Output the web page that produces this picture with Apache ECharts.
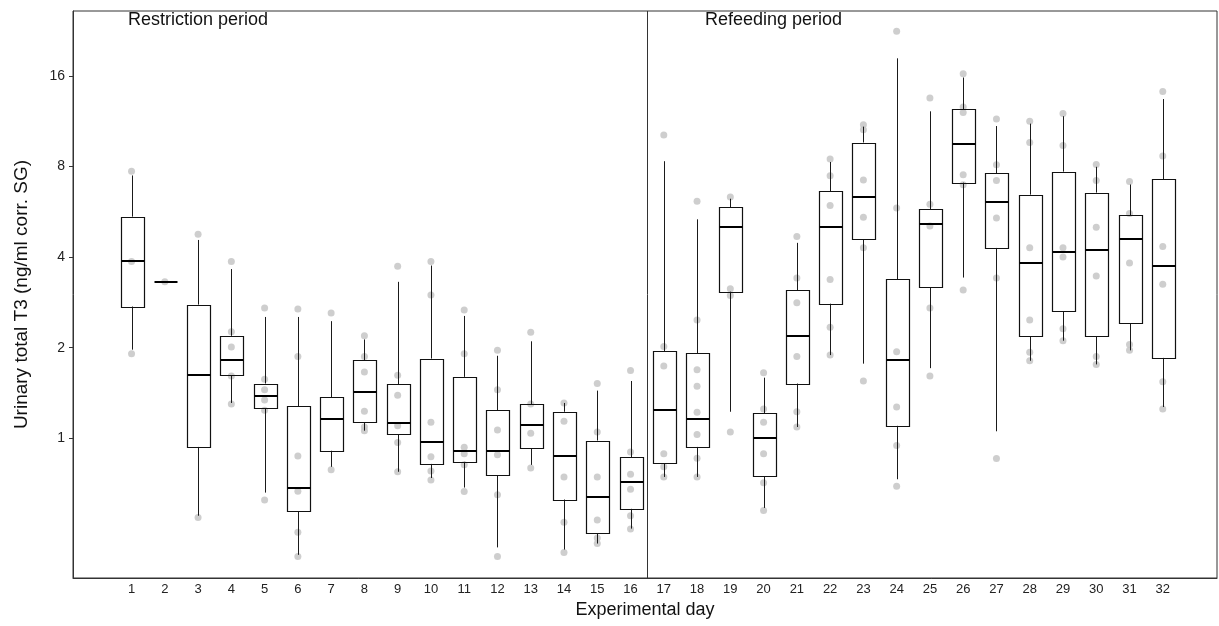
<!DOCTYPE html>
<html>
<head>
<meta charset="utf-8">
<script src="https://cdn.jsdelivr.net/npm/echarts@6/dist/echarts.min.js"></script>
<style>
  html, body { margin: 0; padding: 0; background: #fff; }
  #chart { width: 1219px; height: 626px; }
</style>
</head>
<body>
<div id="chart"></div>
<script>
// ---- Data (ng/ml corr. SG) ----
const days = [1,2,3,4,5,6,7,8,9,10,11,12,13,14,15,16,17,18,19,20,21,22,23,24,25,26,27,28,29,30,31,32];
const whiskerLow  = [1.97,3.31,0.553,1.31,0.66,0.41,0.804,1.06,0.774,0.738,0.686,0.434,0.816,0.427,0.447,0.501,0.744,0.744,1.225,0.587,1.09,1.89,1.77,0.731,1.71,3.42,1.055,1.81,2.11,1.76,1.96,1.27];
const q1          = [2.74,3.31,0.936,1.62,1.26,0.573,0.909,1.13,1.03,0.822,0.835,0.755,0.925,0.626,0.484,0.583,0.827,0.936,3.07,0.749,1.52,2.80,4.59,1.10,3.18,7.07,4.29,2.18,2.64,2.18,2.41,1.85];
const median      = [3.89,3.31,1.62,1.82,1.38,0.686,1.16,1.43,1.12,0.969,0.909,0.904,1.11,0.876,0.637,0.718,1.24,1.16,5.03,1.00,2.19,5.03,6.31,1.82,5.17,9.53,6.08,3.83,4.17,4.21,4.59,3.74];
const q3          = [5.45,3.31,2.78,2.19,1.52,1.28,1.37,1.82,1.51,1.84,1.60,1.24,1.30,1.225,0.983,0.864,1.95,1.92,5.85,1.21,3.10,6.62,9.61,3.37,5.77,12.4,7.60,6.45,7.69,6.55,5.50,7.26];
const whiskerHigh = [7.47,3.31,4.56,3.65,2.53,2.53,2.45,2.13,3.31,3.75,2.55,1.88,2.10,1.31,1.44,1.55,8.33,5.34,6.25,1.59,4.46,8.28,10.85,18.3,12.2,15.8,10.9,11.1,11.75,7.98,6.97,13.4];
const observations = [
  [7.71,3.87,1.91],
  [3.31],
  [4.76,0.546],
  [3.87,2.26,2.01,1.61,1.30],
  [2.71,1.57,1.45,1.34,1.24,0.624],
  [2.69,1.87,0.874,0.667,0.487,0.405],
  [2.61,0.786],
  [2.19,1.87,1.66,1.23,1.09,1.06],
  [3.73,1.62,1.39,1.10,0.969,0.774],
  [3.87,2.99,1.13,0.869,0.779,0.727],
  [2.67,1.91,0.933,0.889,0.816,0.665],
  [1.96,1.45,1.065,0.882,0.649,0.405],
  [2.25,1.30,1.04,0.797],
  [1.31,1.14,0.744,0.526,0.417],
  [1.52,1.05,0.744,0.535,0.466,0.447],
  [1.68,0.901,0.759,0.677,0.553,0.500],
  [10.18,2.02,1.74,0.889,0.804,0.744],
  [6.13,2.47,1.69,1.49,1.22,1.03,0.859,0.744],
  [6.34,3.14,2.98,1.05],
  [1.65,1.25,1.13,0.889,0.711,0.575],
  [4.68,3.41,2.82,1.87,1.225,1.09],
  [8.47,7.45,5.94,3.37,2.34,1.89],
  [11.0,10.6,7.21,5.42,4.30,1.55],
  [22.5,5.82,1.94,1.27,0.947,0.693],
  [13.5,5.99,5.07,2.71,1.61],
  [16.26,12.6,12.1,7.51,6.96,3.11],
  [11.5,8.10,7.18,5.39,3.41,0.856],
  [11.3,9.61,4.30,2.47,1.93,1.81],
  [12.0,9.40,4.30,4.00,2.31,2.11],
  [8.12,7.18,5.03,3.46,1.87,1.76],
  [7.13,5.58,3.82,2.05,1.96],
  [14.2,8.67,4.34,3.25,1.54,1.25]
];
const yTickValues = [1, 2, 4, 8, 16];
const periodSplit = 16.5;
const periodLabels = ['Restriction period', 'Refeeding period'];
const yAxisTitle = 'Urinary total T3 (ng/ml corr. SG)';
const xAxisTitle = 'Experimental day';

// ---- Build (log2 scale) ----
const lg = Math.log2;
const boxData = days.map((d, i) => [d, lg(whiskerLow[i]), lg(q1[i]), lg(median[i]), lg(q3[i]), lg(whiskerHigh[i])]);
const pointData = [];
days.forEach((d, i) => observations[i].forEach(v => pointData.push([d, lg(v)])));

const BOX_W = 0.72;
const crisp = v => Math.round(v) + 0.5;

function renderBox(params, api) {
  const x = api.value(0);
  const cx = crisp(api.coord([x, api.value(3)])[0]);
  const yLow = api.coord([x, api.value(1)])[1];
  const yQ1 = api.coord([x, api.value(2)])[1];
  const yMed = api.coord([x, api.value(3)])[1];
  const yQ3 = api.coord([x, api.value(4)])[1];
  const yHigh = api.coord([x, api.value(5)])[1];
  const half = api.size([BOX_W, 0])[0] / 2;
  const x0 = crisp(cx - half), x1 = crisp(cx + half);
  const lineStyle = { stroke: '#1a1a1a', lineWidth: 1, fill: null };
  const children = [];
  if (yQ1 - yQ3 > 0.5) {
    children.push({ type: 'line', shape: { x1: cx, y1: yHigh, x2: cx, y2: yQ3 }, style: lineStyle });
    children.push({ type: 'line', shape: { x1: cx, y1: yQ1, x2: cx, y2: yLow }, style: lineStyle });
    children.push({ type: 'rect', shape: { x: x0, y: crisp(yQ3), width: x1 - x0, height: crisp(yQ1) - crisp(yQ3) },
      style: { stroke: '#111', lineWidth: 1.2, fill: 'rgba(0,0,0,0)' } });
  }
  children.push({ type: 'line', shape: { x1: x0, y1: Math.round(yMed), x2: x1, y2: Math.round(yMed) },
    style: { stroke: '#000', lineWidth: 2 } });
  return { type: 'group', children };
}

const chart = echarts.init(document.getElementById('chart'), null, { renderer: 'canvas' });
chart.setOption({
  animation: false,
  backgroundColor: '#fff',
  textStyle: { fontFamily: 'Liberation Sans, Arial, sans-serif' },
  grid: { left: 73, right: 2, top: 11, bottom: 48, show: true, borderColor: '#333', borderWidth: 1,
          containLabel: false, outerBoundsMode: 'none' },
  xAxis: {
    type: 'value',
    min: -0.76, max: 33.63,
    splitLine: { show: false },
    axisLine: { show: true, onZero: false, lineStyle: { color: '#333', width: 1 } },
    axisTick: { show: false },
    axisLabel: { customValues: days, color: '#222', fontSize: 13, margin: 5 },
    name: xAxisTitle, nameLocation: 'middle', nameGap: 23,
    nameTextStyle: { color: '#111', fontSize: 18 }
  },
  yAxis: {
    type: 'value',
    min: -1.542, max: 4.716,
    splitLine: { show: false },
    axisLine: { show: true, onZero: false, lineStyle: { color: '#333', width: 1 } },
    axisTick: { show: true, customValues: yTickValues.map(lg), length: 4, lineStyle: { color: '#333' } },
    axisLabel: { customValues: yTickValues.map(lg), formatter: v => String(Math.round(Math.pow(2, v))), color: '#222', fontSize: 14, margin: 8 },
    name: yAxisTitle, nameLocation: 'middle', nameGap: 42, nameRotate: 90,
    nameTextStyle: { color: '#111', fontSize: 19 }
  },
  series: [
    {
      type: 'scatter',
      data: pointData,
      symbol: 'circle',
      symbolSize: 7,
      itemStyle: { color: '#c6c6c6', opacity: 0.85 },
      z: 1,
      silent: true,
      markLine: {
        silent: true, symbol: 'none', label: { show: false },
        lineStyle: { color: '#333', width: 1, type: 'solid' },
        data: [{ xAxis: periodSplit }]
      }
    },
    {
      type: 'custom',
      renderItem: renderBox,
      data: boxData,
      encode: { x: 0, y: [1, 2, 3, 4, 5] },
      z: 3,
      silent: true
    }
  ],
  graphic: [
    { type: 'text', left: 128, top: 11, style: { text: periodLabels[0], fontSize: 18, fill: '#111', fontFamily: 'Liberation Sans, Arial, sans-serif' } },
    { type: 'text', left: 705, top: 11, style: { text: periodLabels[1], fontSize: 18, fill: '#111', fontFamily: 'Liberation Sans, Arial, sans-serif' } }
  ]
});
</script>
</body>
</html>
